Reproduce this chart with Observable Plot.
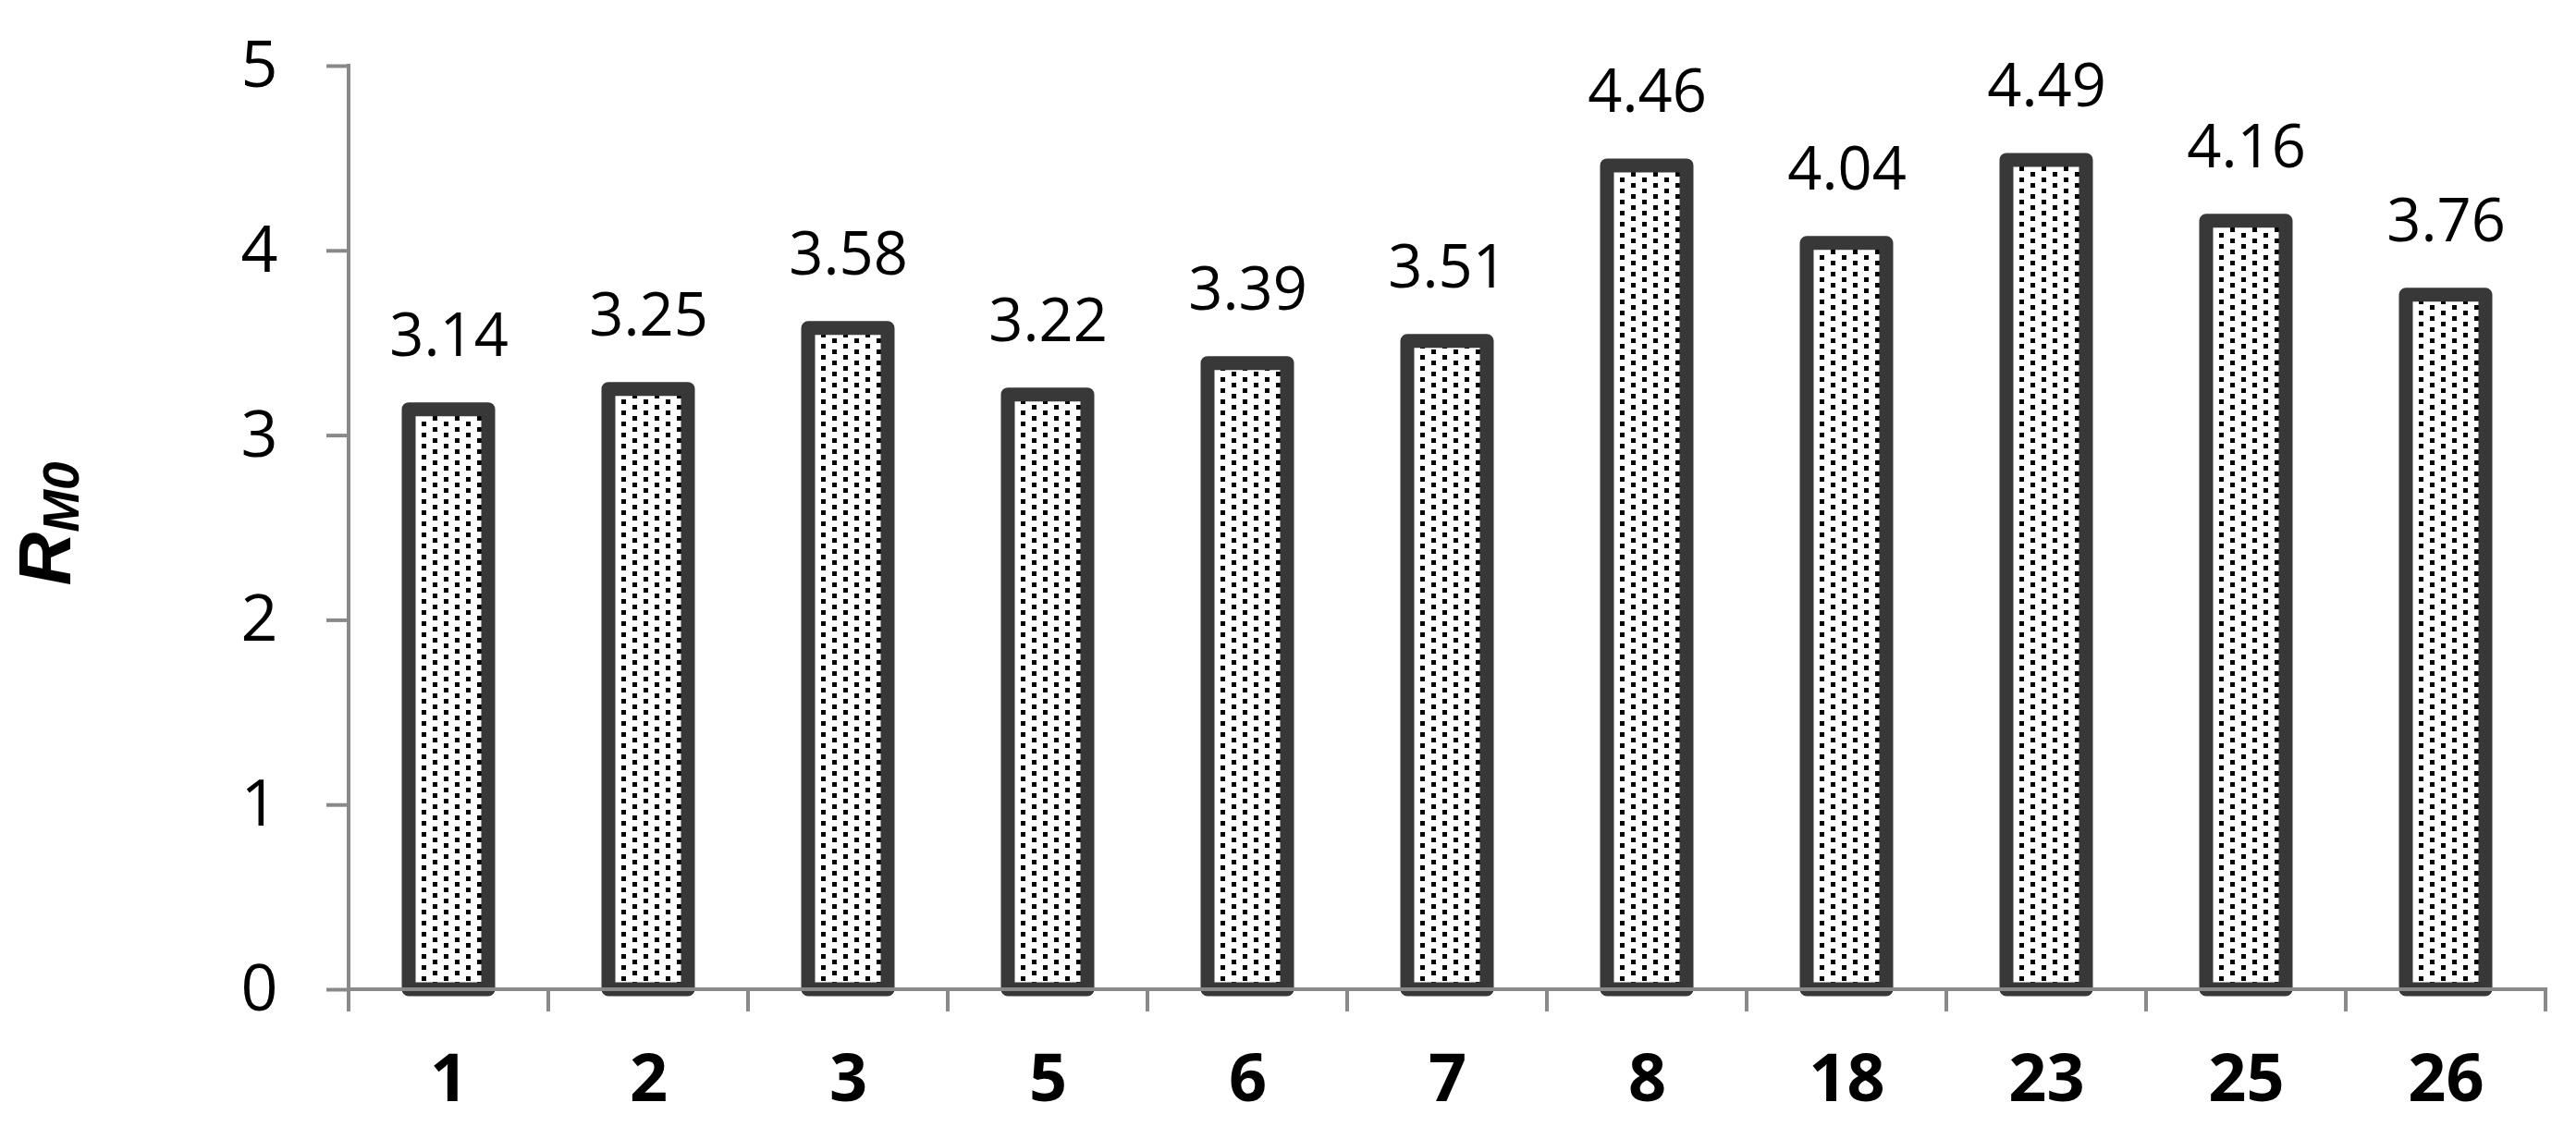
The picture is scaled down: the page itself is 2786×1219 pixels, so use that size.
<!DOCTYPE html>
<html><head><meta charset="utf-8">
<script src="https://cdn.jsdelivr.net/npm/d3@7"></script>
<script src="https://cdn.jsdelivr.net/npm/@observablehq/plot@0.6"></script>
<style>body{margin:0;background:#fff} svg{display:block}</style>
</head><body><div id="chart"></div>
<script>
const categories = ["1","2","3","5","6","7","8","18","23","25","26"];
const values = [3.14,3.25,3.58,3.22,3.39,3.51,4.46,4.04,4.49,4.16,3.76];
const yTicks = [0,1,2,3,4,5];
const yTitleMain = "R";
const yTitleSub = "M0";

const data = categories.map((c, i) => ({cat: c, value: values[i]}));

const FONT = "'Open Sans', sans-serif";
const TITLE_FONT = "'Liberation Sans', Arial, sans-serif";
const AXIS = "#898989";
const BAR_STROKE = "#383838";
const TICK = 24;

function defsMark(index, scales, vals, dim) {
  const g = d3.create("svg:g");
  const p = g.append("defs").append("pattern")
    .attr("id", "dots").attr("patternUnits", "userSpaceOnUse")
    .attr("width", 24).attr("height", 12);
  p.append("rect").attr("width", 24).attr("height", 12).attr("fill", "#fff");
  p.append("rect").attr("x", 0).attr("y", 0).attr("width", 5).attr("height", 5).attr("fill", "#000");
  p.append("rect").attr("x", 12).attr("y", 6).attr("width", 5).attr("height", 5).attr("fill", "#000");
  return g.node();
}

function axisLines(index, scales, vals, dim) {
  const g = d3.create("svg:g").attr("stroke", AXIS).attr("stroke-width", 4).attr("fill", "none");
  const x0 = dim.marginLeft, x1 = dim.width - dim.marginRight;
  const y0 = scales.y(0), yTop = scales.y(d3.max(yTicks));
  g.append("line").attr("x1", x0).attr("x2", x0).attr("y1", yTop - 2).attr("y2", y0 + TICK);
  g.append("line").attr("x1", x0).attr("x2", x1 + 2).attr("y1", y0).attr("y2", y0);
  const n = categories.length, step = (x1 - x0) / n;
  for (let i = 1; i <= n; i++) {
    g.append("line").attr("x1", x0 + i * step).attr("x2", x0 + i * step).attr("y1", y0).attr("y2", y0 + TICK);
  }
  return g.node();
}

function yTitle(index, scales, vals, dim) {
  const cy = (scales.y(0) + scales.y(d3.max(yTicks))) / 2 - 4;
  const t = d3.create("svg:text")
    .attr("transform", `translate(76,${cy}) rotate(-90)`)
    .attr("text-anchor", "middle")
    .attr("font-family", TITLE_FONT)
    .attr("font-weight", "bold")
    .attr("font-style", "italic")
    .attr("fill", "#000");
  t.append("tspan").attr("font-size", 80).text(yTitleMain);
  t.append("tspan").attr("font-size", 55).attr("dy", 9).text(yTitleSub);
  return t.node();
}

const chart = Plot.plot({
  width: 2786,
  height: 1219,
  marginLeft: 377,
  marginRight: 33,
  marginTop: 71,
  marginBottom: 149,
  style: {fontFamily: FONT, fontSize: "70px", background: "#fff", color: "#000"},
  x: {type: "band", domain: categories, paddingInner: 0.6, paddingOuter: 0.3, axis: null},
  y: {domain: [0, 5], axis: null},
  marks: [
    defsMark,
    Plot.barY(data, {x: "cat", y: "value", fill: "url(#dots)", stroke: BAR_STROKE, strokeWidth: 15, strokeLinejoin: "round"}),
    axisLines,
    Plot.axisY({ticks: yTicks, tickSize: TICK, tickPadding: 53, stroke: AXIS, strokeWidth: 4, fill: "#000", fontSize: 70, tickFormat: d3.format("d"), label: null}),
    Plot.text(data, {x: "cat", y: "value", text: d => d.value.toFixed(2), dy: -79, fontSize: 65, lineAnchor: "middle", fill: "#000"}),
    Plot.text(categories, {x: d => d, frameAnchor: "bottom", dy: 97, fontSize: 72, fontWeight: "bold", lineAnchor: "middle", fill: "#000"}),
    yTitle
  ]
});
document.getElementById("chart").appendChild(chart);
</script>
</body></html>
